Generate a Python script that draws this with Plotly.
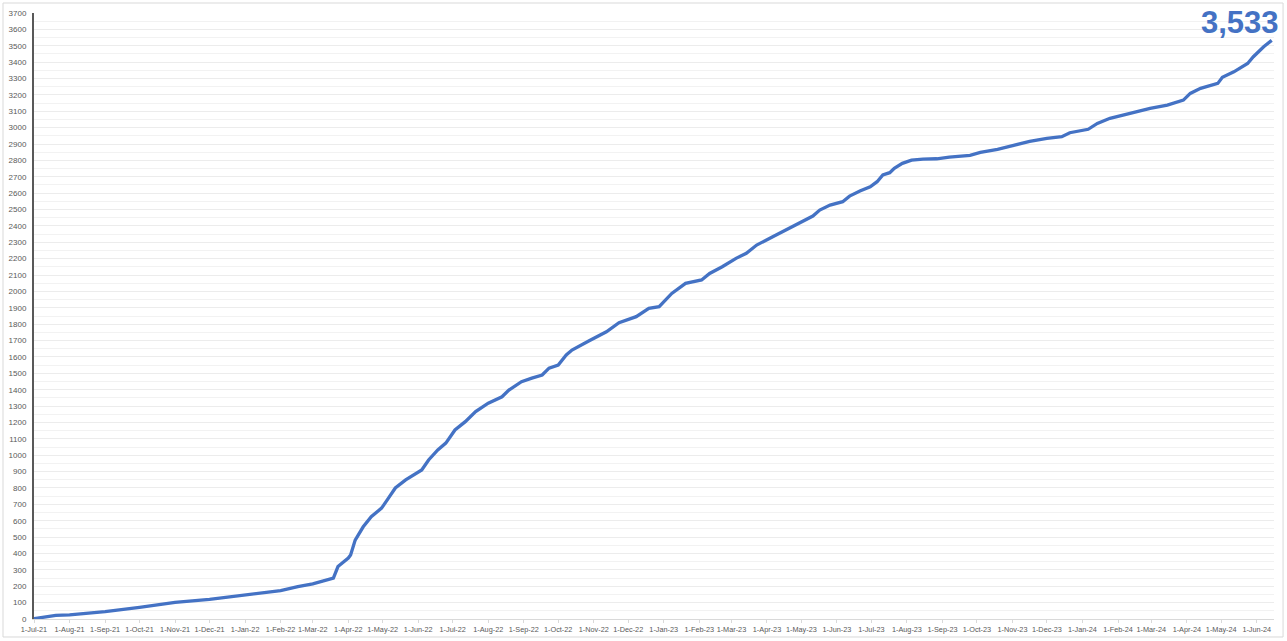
import plotly.graph_objects as go

dates = [
    "2021-07-01", "2021-07-12", "2021-07-20", "2021-08-01", "2021-09-01", "2021-10-01",
    "2021-11-01", "2021-12-01", "2022-01-01", "2022-02-01", "2022-02-16", "2022-03-01",
    "2022-03-19", "2022-03-23", "2022-04-01", "2022-04-03", "2022-04-07", "2022-04-14",
    "2022-04-21", "2022-04-30", "2022-05-06", "2022-05-12", "2022-05-21", "2022-06-04",
    "2022-06-10", "2022-06-18", "2022-06-25", "2022-07-03", "2022-07-12", "2022-07-21",
    "2022-08-01", "2022-08-13", "2022-08-19", "2022-08-30", "2022-09-08", "2022-09-17",
    "2022-09-23", "2022-10-01", "2022-10-08", "2022-10-13", "2022-10-28", "2022-11-12",
    "2022-11-23", "2022-12-08", "2022-12-19", "2022-12-28", "2023-01-08", "2023-01-20",
    "2023-02-03", "2023-02-10", "2023-02-21", "2023-03-05", "2023-03-14", "2023-03-23",
    "2023-04-06", "2023-04-21", "2023-04-29", "2023-05-11", "2023-05-17", "2023-05-26",
    "2023-06-06", "2023-06-12", "2023-06-21", "2023-06-30", "2023-07-06", "2023-07-11",
    "2023-07-17", "2023-07-21", "2023-07-28", "2023-08-05", "2023-08-15", "2023-08-27",
    "2023-09-07", "2023-09-25", "2023-10-04", "2023-10-19", "2023-11-02", "2023-11-16",
    "2023-12-01", "2023-12-14", "2023-12-21", "2024-01-06", "2024-01-14", "2024-01-25",
    "2024-02-15", "2024-02-29", "2024-03-15", "2024-03-29", "2024-04-04", "2024-04-13",
    "2024-04-28", "2024-05-02", "2024-05-12", "2024-05-24", "2024-05-29", "2024-06-07",
    "2024-06-14",
]
values = [
    2, 15, 22, 25, 45, 71,
    102, 120, 149, 173, 197, 214,
    250, 320, 372, 391, 482, 563,
    625, 677, 738, 800, 849, 910,
    971, 1032, 1074, 1154, 1205, 1266,
    1318, 1357, 1398, 1449, 1471, 1490,
    1532, 1551, 1612, 1642, 1699, 1754,
    1809, 1846, 1897, 1907, 1988, 2049,
    2070, 2110, 2151, 2202, 2233, 2283,
    2334, 2389, 2420, 2460, 2497, 2527,
    2548, 2582, 2613, 2639, 2670, 2711,
    2725, 2752, 2782, 2802, 2808, 2810,
    2820, 2831, 2849, 2867, 2892, 2916,
    2935, 2945, 2969, 2990, 3026, 3057,
    3093, 3118, 3138, 3168, 3209, 3240,
    3270, 3307, 3341, 3392, 3433, 3494,
    3533,
]

x_start = "2021-07-01"
x_end = "2024-06-16"
y_max = 3700

line_color = "#4472C4"
label_font = "Liberation Sans, Arial, sans-serif"

fig = go.Figure()
fig.add_trace(go.Scatter(
    x=dates, y=values, mode="lines",
    line=dict(color=line_color, width=3.3),
    hoverinfo="x+y", showlegend=False, cliponaxis=False,
))

fig.add_annotation(
    x=dates[-1], y=values[-1], xref="x", yref="y",
    text=f"<b>{values[-1]:,}</b>", showarrow=False,
    xanchor="right", yanchor="bottom", xshift=9, yshift=-2,
    font=dict(family="Liberation Sans, Arial, sans-serif", size=31, color=line_color),
)

fig.add_shape(
    type="rect", xref="paper", yref="paper",
    x0=-0.025, x1=1.0073, y0=-0.0297, y1=1.0165,
    line=dict(color="#d9d9d9", width=1), fillcolor="rgba(0,0,0,0)", layer="below",
)

fig.update_layout(
    width=1287, height=641,
    margin=dict(l=34, r=13, t=13, b=22, autoexpand=False),
    paper_bgcolor="white", plot_bgcolor="white",
    font=dict(family=label_font, size=8, color="#595959"),
    xaxis=dict(
        type="date", range=[x_start, x_end], automargin=False,
        tick0=x_start, dtick="M1", tickformat="%-d-%b-%y", tickangle=0,
        showgrid=False, zeroline=False,
        showline=True, linecolor="#d9d9d9", linewidth=1,
        ticks="outside", ticklen=3, tickcolor="#d9d9d9",
        tickfont=dict(family=label_font, size=7.3, color="#595959"),
    ),
    yaxis=dict(
        range=[0, y_max], dtick=100, tick0=0, automargin=False,
        showgrid=True, gridcolor="#ececec", gridwidth=1,
        minor=dict(dtick=50, showgrid=True, gridcolor="#f2f2f2", gridwidth=1),
        zeroline=False,
        showline=True, linecolor="#595959", linewidth=2,
        ticks="", ticklabelstandoff=4,
        tickfont=dict(family=label_font, size=8, color="#595959"),
    ),
)

fig.write_html(
    "out.html",
    config={"displayModeBar": False},
    post_script="document.body.style.margin='0';document.body.style.overflow='hidden';",
)
